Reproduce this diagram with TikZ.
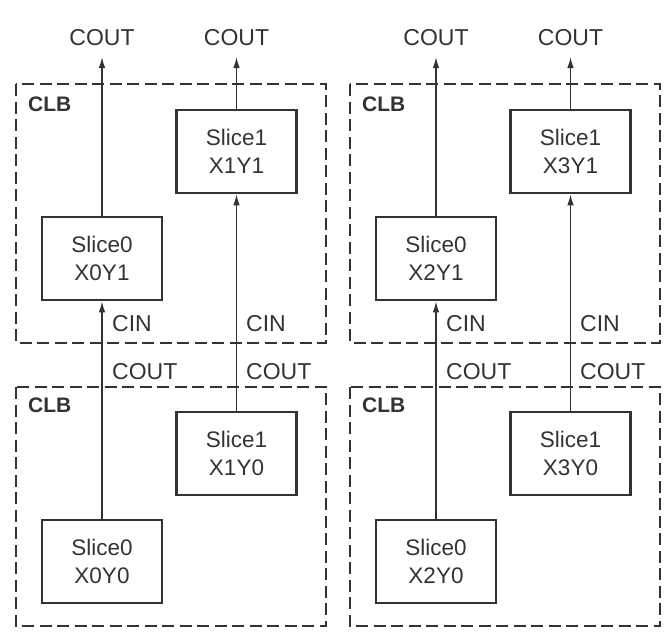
\documentclass[tikz,border=0pt]{standalone}
\usepackage{fontspec}
\setmainfont{Liberation Sans}
\usetikzlibrary{arrows.meta}
\definecolor{ink}{HTML}{333333}
\begin{document}
\begin{tikzpicture}[x=1pt,y=-1pt,
  slicebox/.style={draw=ink,line width=2.5pt,minimum width=120pt,minimum height=83pt,inner sep=0pt,align=center,text=ink,font=\fontsize{22.5}{28}\selectfont},
  clbbox/.style={draw=ink,line width=2.6pt,dash pattern=on 12pt off 5.5pt},
  clblabel/.style={anchor=west,text=ink,font=\fontsize{21}{24}\selectfont\bfseries,inner sep=0pt},
  sig/.style={anchor=west,text=ink,font=\fontsize{23}{24}\selectfont,inner sep=0pt},
  toplabel/.style={anchor=center,text=ink,font=\fontsize{23}{24}\selectfont,inner sep=0pt},
  carry/.style={draw=ink,line width=1.4pt,-{Latex[length=11pt,width=6.5pt]}}
]
\useasboundingbox (0,0) rectangle (668,638);
\foreach \dx/\xa/\xb in {0/0/1,334/2/3}{
  \begin{scope}[xshift=\dx pt]
  % CLB boxes
  \draw[clbbox] (16,84) rectangle (326,343);
  \draw[clbbox] (16,387) rectangle (326,626);
  \node[clblabel] (clbt\xa) at (28,104) {CLB};
  \node[clblabel] (clbb\xa) at (28,405) {CLB};
  % slices
  \node[slicebox] (s\xa y1) at (102,258.5) {Slice0\\X\xa Y1};
  \node[slicebox] (s\xb y1) at (236.5,151.5) {Slice1\\X\xb Y1};
  \node[slicebox] (s\xa y0) at (102,561.5) {Slice0\\X\xa Y0};
  \node[slicebox] (s\xb y0) at (236.5,453.5) {Slice1\\X\xb Y0};
  % outputs at top
  \coordinate (o\xa) at (102,57);
  \coordinate (o\xb) at (236.5,57);
  \node[toplabel] (co\xa) at (102,37.5) {COUT};
  \node[toplabel] (co\xb) at (236.5,37.5) {COUT};
  \draw[carry] (s\xa y1.north) -- (o\xa);
  \draw[carry] (s\xb y1.north) -- (o\xb);
  \draw[carry] (s\xa y0.north) -- (s\xa y1.south);
  \draw[carry] (s\xb y0.north) -- (s\xb y1.south);
  % CIN / COUT labels
  \node[sig] (cin\xa) at (112,324) {CIN};
  \node[sig] (cin\xb) at (246,324) {CIN};
  \node[sig] (cob\xa) at (112,371.5) {COUT};
  \node[sig] (cob\xb) at (246,371.5) {COUT};
  \end{scope}
}
\end{tikzpicture}
\end{document}
